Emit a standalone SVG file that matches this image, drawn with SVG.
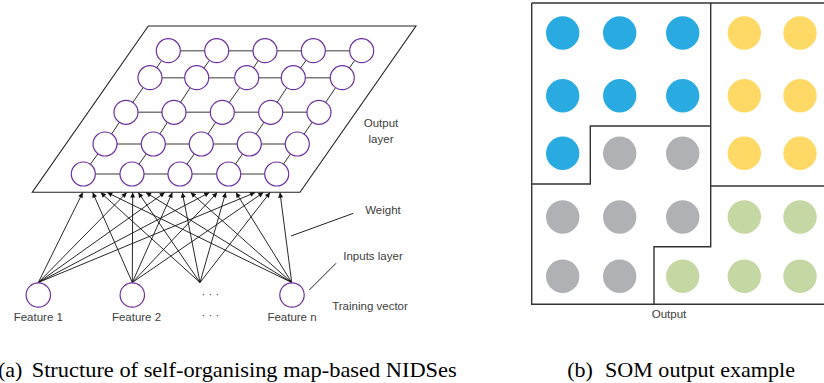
<svg xmlns="http://www.w3.org/2000/svg" width="824" height="383" viewBox="0 0 824 383">
  <style>
    .lbl { font-family: "Liberation Sans", Arial, sans-serif; font-size: 11.5px; fill: #404040; }
    .cap { font-family: "Liberation Serif", "Times New Roman", serif; font-size: 22px; fill: #000; }
    .node { fill: #fff; stroke: #7030a0; stroke-width: 1.2; }
    .hline { stroke: #7a7a7a; stroke-width: 1.6; }
    .dline { stroke: #333; stroke-width: 1; }
    .arrow { stroke: #111; stroke-width: 0.9; marker-end: url(#ah); }
    .lead { stroke: #222; stroke-width: 1; }
    .border { fill: none; stroke: #333; stroke-width: 1.4; }
    .blue { fill: #29abe2; }
    .yellow { fill: #ffd966; }
    .grey { fill: #b0b1b5; }
    .green { fill: #c5d8a4; }
  </style>
  <defs>
    <marker id="ah" viewBox="0 0 10 10" refX="10" refY="5" markerWidth="6" markerHeight="5" markerUnits="userSpaceOnUse" orient="auto">
      <path d="M0,0 L10,5 L0,10 z" fill="#111"/>
    </marker>
  </defs>

  <rect width="824" height="383" fill="#fff"/>

  <!-- (a) self-organising map structure -->
  <g id="output-plane">
    <polygon points="148.3,26 416,26 300,192.3 32.3,192.3" fill="none" stroke="#222" stroke-width="1.1"/>
  </g>

  <g id="connectors">
    <!-- lattice: horizontal links -->
    <g class="hline">
      <line x1="168.3" y1="50.7" x2="361.7" y2="50.7"/>
      <line x1="150" y1="77.7" x2="342.3" y2="77.7"/>
      <line x1="126" y1="112.3" x2="319" y2="112.3"/>
      <line x1="105" y1="144" x2="297.3" y2="144"/>
      <line x1="83.3" y1="174" x2="276.7" y2="174"/>
    </g>
    <!-- lattice: diagonal links between rows -->
    <g class="dline">
      <polyline fill="none" points="168.3,50.7 150,77.7 126,112.3 105,144 83.3,174"/>
      <polyline fill="none" points="216.7,50.7 196.7,77.7 174,112.3 153.3,144 132,174"/>
      <polyline fill="none" points="265,50.7 246.7,77.7 222.3,112.3 201.3,144 180,174"/>
      <polyline fill="none" points="313.3,50.7 293.3,77.7 270.7,112.3 249.3,144 228.7,174"/>
      <polyline fill="none" points="361.7,50.7 342.3,77.7 319,112.3 297.3,144 276.7,174"/>
    </g>
    <!-- weights: every input feeds every bottom-row unit -->
    <g class="arrow">
      <line x1="38.3" y1="282.5" x2="82.7" y2="192.6"/>
      <line x1="38.3" y1="282.5" x2="126.7" y2="192.6"/>
      <line x1="38.3" y1="282.5" x2="164.7" y2="192.6"/>
      <line x1="38.3" y1="282.5" x2="209.3" y2="192.6"/>
      <line x1="38.3" y1="282.5" x2="255" y2="192.6"/>

      <line x1="132.3" y1="282.5" x2="92.7" y2="192.6"/>
      <line x1="132.3" y1="282.5" x2="132.7" y2="192.6"/>
      <line x1="132.3" y1="282.5" x2="172.3" y2="192.6"/>
      <line x1="132.3" y1="282.5" x2="217.3" y2="192.6"/>
      <line x1="132.3" y1="282.5" x2="263.3" y2="192.6"/>

      <line x1="200" y1="282.5" x2="100.7" y2="192.6"/>
      <line x1="200" y1="282.5" x2="138.3" y2="192.6"/>
      <line x1="200" y1="282.5" x2="182.3" y2="192.6"/>
      <line x1="200" y1="282.5" x2="225.7" y2="192.6"/>
      <line x1="200" y1="282.5" x2="270" y2="192.6"/>

      <line x1="291.7" y1="282.5" x2="107.3" y2="192.6"/>
      <line x1="291.7" y1="282.5" x2="146" y2="192.6"/>
      <line x1="291.7" y1="282.5" x2="190.7" y2="192.6"/>
      <line x1="291.7" y1="282.5" x2="236" y2="192.6"/>
      <line x1="291.7" y1="282.5" x2="280" y2="192.6"/>
    </g>
    <!-- label leaders -->
    <line class="lead" x1="291" y1="236" x2="353.3" y2="213.3"/>
    <line class="lead" x1="309.3" y1="290" x2="336" y2="263.3"/>
  </g>

  <g id="output-units">
    <g id="row1">
      <circle class="node" cx="168.3" cy="50.7" r="12"/>
      <circle class="node" cx="216.7" cy="50.7" r="12"/>
      <circle class="node" cx="265" cy="50.7" r="12"/>
      <circle class="node" cx="313.3" cy="50.7" r="12"/>
      <circle class="node" cx="361.7" cy="50.7" r="12"/>
    </g>
    <g id="row2">
      <circle class="node" cx="150" cy="77.7" r="12"/>
      <circle class="node" cx="196.7" cy="77.7" r="12"/>
      <circle class="node" cx="246.7" cy="77.7" r="12"/>
      <circle class="node" cx="293.3" cy="77.7" r="12"/>
      <circle class="node" cx="342.3" cy="77.7" r="12"/>
    </g>
    <g id="row3">
      <circle class="node" cx="126" cy="112.3" r="12"/>
      <circle class="node" cx="174" cy="112.3" r="12"/>
      <circle class="node" cx="222.3" cy="112.3" r="12"/>
      <circle class="node" cx="270.7" cy="112.3" r="12"/>
      <circle class="node" cx="319" cy="112.3" r="12"/>
    </g>
    <g id="row4">
      <circle class="node" cx="105" cy="144" r="12"/>
      <circle class="node" cx="153.3" cy="144" r="12"/>
      <circle class="node" cx="201.3" cy="144" r="12"/>
      <circle class="node" cx="249.3" cy="144" r="12"/>
      <circle class="node" cx="297.3" cy="144" r="12"/>
    </g>
    <g id="row5">
      <circle class="node" cx="83.3" cy="174" r="12"/>
      <circle class="node" cx="132" cy="174" r="12"/>
      <circle class="node" cx="180" cy="174" r="12"/>
      <circle class="node" cx="228.7" cy="174" r="12"/>
      <circle class="node" cx="276.7" cy="174" r="12"/>
    </g>
  </g>

  <g id="feature-1">
    <circle class="node" cx="38.3" cy="295" r="12.2"/>
    <text class="lbl" x="38.3" y="320.8" text-anchor="middle">Feature 1</text>
  </g>
  <g id="feature-2">
    <circle class="node" cx="132.3" cy="295" r="12.2"/>
    <text class="lbl" x="136.5" y="320.8" text-anchor="middle">Feature 2</text>
  </g>
  <g id="feature-more">
    <text class="lbl" x="210.5" y="298" text-anchor="middle" font-size="10">· · ·</text>
    <text class="lbl" x="210.5" y="319" text-anchor="middle" font-size="10">· · ·</text>
  </g>
  <g id="feature-n">
    <circle class="node" cx="292" cy="295" r="12.2"/>
    <text class="lbl" x="292" y="320.8" text-anchor="middle">Feature n</text>
  </g>

  <g id="labels">
    <text class="lbl" x="381" y="127.3" text-anchor="middle">Output</text>
    <text class="lbl" x="381" y="143" text-anchor="middle">layer</text>
    <text class="lbl" x="383" y="214" text-anchor="middle">Weight</text>
    <text class="lbl" x="373" y="260" text-anchor="middle">Inputs layer</text>
    <text class="lbl" x="370" y="310" text-anchor="middle">Training vector</text>
  </g>

  <!-- (b) SOM output example -->
  <g id="som-output">
    <g id="som-regions">
      <path class="border" d="M531.7,3 H826 M531.7,3 V304.3 H826"/>
      <path class="border" d="M710.7,3 V246.7 H654 V304.3"/>
      <path class="border" d="M710.7,186 H826"/>
      <path class="border" d="M531.7,184 H590.3 V126 H710.7"/>
    </g>
    <g id="som-units">
      <circle class="blue" cx="562.7" cy="33" r="16.7"/>
      <circle class="blue" cx="619.7" cy="33" r="16.7"/>
      <circle class="blue" cx="682.7" cy="33" r="16.7"/>
      <circle class="yellow" cx="744.3" cy="33" r="16.7"/>
      <circle class="yellow" cx="800" cy="33" r="16.7"/>

      <circle class="blue" cx="562.7" cy="95.7" r="16.7"/>
      <circle class="blue" cx="619.7" cy="95.7" r="16.7"/>
      <circle class="blue" cx="682.7" cy="95.7" r="16.7"/>
      <circle class="yellow" cx="744.3" cy="95.7" r="16.7"/>
      <circle class="yellow" cx="800" cy="95.7" r="16.7"/>

      <circle class="blue" cx="562.7" cy="153.3" r="16.7"/>
      <circle class="grey" cx="619.7" cy="153.3" r="16.7"/>
      <circle class="grey" cx="682.7" cy="153.3" r="16.7"/>
      <circle class="yellow" cx="744.3" cy="153.3" r="16.7"/>
      <circle class="yellow" cx="800" cy="153.3" r="16.7"/>

      <circle class="grey" cx="562.7" cy="217" r="16.7"/>
      <circle class="grey" cx="619.7" cy="217" r="16.7"/>
      <circle class="grey" cx="682.7" cy="217" r="16.7"/>
      <circle class="green" cx="744.3" cy="217" r="16.7"/>
      <circle class="green" cx="800" cy="217" r="16.7"/>

      <circle class="grey" cx="562.7" cy="276.3" r="16.7"/>
      <circle class="grey" cx="619.7" cy="276.3" r="16.7"/>
      <circle class="green" cx="682.7" cy="276.3" r="16.7"/>
      <circle class="green" cx="744.3" cy="276.3" r="16.7"/>
      <circle class="green" cx="800" cy="276.3" r="16.7"/>
    </g>
    <text class="lbl" x="669" y="317.5" text-anchor="middle">Output</text>
  </g>

  <!-- captions -->
  <g id="caption-a">
    <text class="cap" x="-2" y="377">(a)</text>
    <text class="cap" x="31.7" y="377" textLength="425" lengthAdjust="spacingAndGlyphs">Structure of self-organising map-based NIDSes</text>
  </g>
  <g id="caption-b">
    <text class="cap" x="567.3" y="377">(b)</text>
    <text class="cap" x="605" y="377" textLength="190" lengthAdjust="spacingAndGlyphs">SOM output example</text>
  </g>
</svg>
